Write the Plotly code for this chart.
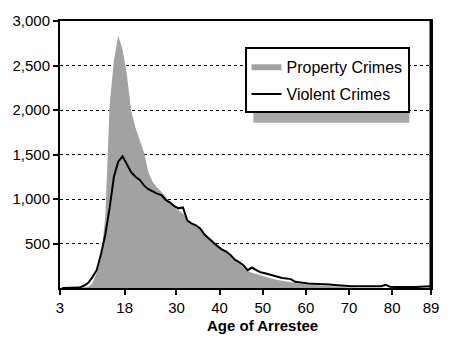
import plotly.graph_objects as go

ages = list(range(3, 90))
property_crimes = [
    0, 0, 0, 0, 0, 8, 15, 50, 170, 340,            # 3-12
    800, 2050, 2560, 2835, 2680, 2400, 1990, 1800, 1660, 1520,  # 13-22
    1300, 1190, 1130, 1080, 1030, 955, 910, 870, 840, 760,      # 23-32
    720, 700, 660, 600, 550, 500, 460, 430, 400, 360,           # 33-42
    310, 270, 240, 190, 170, 155, 140, 128, 115, 100,           # 43-52
    90, 80, 72, 64, 56, 48, 42, 38, 34, 30,                     # 53-62
    26, 22, 18, 15, 12, 10, 6, 3, 0, 0,                         # 63-72
    0, 0, 0, 0, 0, 0, 0, 0, 0, 0,                               # 73-82
    0, 0, 0, 0, 0, 0, 0,                                        # 83-89
]
violent_crimes = [
    0, 0, 0, 0, 5, 25, 55, 120, 200, 378,          # 3-12
    600, 900, 1250, 1420, 1480, 1390, 1300, 1250, 1215, 1150,   # 13-22
    1110, 1085, 1060, 1045, 990, 960, 920, 895, 905, 760,       # 23-32
    725, 705, 670, 600, 555, 510, 470, 435, 410, 370,           # 33-42
    320, 290, 255, 200, 230, 200, 176, 165, 150, 140,           # 43-52
    120, 112, 106, 100, 70, 62, 55, 50, 48, 48,                 # 53-62
    48, 46, 40, 35, 30, 25, 20, 19, 19, 19,                     # 63-72
    19, 19, 19, 19, 19, 35, 15, 12, 10, 8,                      # 73-82
    8, 8, 10, 15, 19, 19, 19,                                   # 83-89
]
x_tick_vals = [3, 18, 30, 40, 50, 60, 70, 80, 89]
y_tick_vals = [500, 1000, 1500, 2000, 2500, 3000]
y_tick_text = ["500", "1,000", "1,500", "2,000", "2,500", "3,000"]

# points sit in the middle of each one-year category
xpos = [a + 0.5 for a in ages]

FONT = "Liberation Sans, Arial, sans-serif"
FILL = "#a8a8a8"

fig = go.Figure()
fig.add_trace(go.Scatter(
    x=xpos, y=property_crimes, name="Property Crimes", mode="lines",
    line=dict(width=0, color=FILL), fill="tozeroy",
    fillcolor=FILL,
    fillpattern=dict(shape=".", fgcolor="#444444", bgcolor="#bcbcbc", size=2, solidity=0.5),
    legendgroup="p",
))
fig.add_trace(go.Scatter(
    x=xpos, y=violent_crimes, name="Violent Crimes", mode="lines",
    line=dict(width=2, color="black"), legendgroup="v",
))

W, H = 451, 341
L, R, T, B = 57, 18, 15, 53
pw, ph = W - L - R, H - T - B

def px_x(p):
    return (p - L) / pw

def px_y(p):
    return (H - B - p) / ph

fig.update_layout(
    width=W, height=H,
    margin=dict(l=L, r=R, t=T, b=B),
    paper_bgcolor="white", plot_bgcolor="white",
    font=dict(family=FONT, size=15, color="black"),
    showlegend=True,
    legend=dict(
        x=px_x(244), y=px_y(42), xanchor="left", yanchor="top",
        bgcolor="white", bordercolor="black", borderwidth=2,
        font=dict(size=16), tracegroupgap=4, itemwidth=30,
    ),
    xaxis=dict(
        range=[3, 89], tickmode="array", tickvals=x_tick_vals,
        ticks="outside", ticklen=5, tickwidth=2, tickcolor="black",
        showline=True, linecolor="black", linewidth=2, mirror=True,
        showgrid=False, zeroline=False,
        tickfont=dict(size=15),
    ),
    yaxis=dict(
        range=[0, 3000], tickmode="array", tickvals=y_tick_vals, ticktext=y_tick_text,
        ticks="outside", ticklen=5, tickwidth=2, tickcolor="black",
        showline=True, linecolor="black", linewidth=2, mirror=True,
        showgrid=True, gridcolor="black", gridwidth=1, griddash="dot",
        zeroline=False, tickfont=dict(size=15),
    ),
    shapes=[
        dict(type="rect", xref="paper", yref="paper",
             x0=px_x(253), x1=px_x(411), y0=px_y(119), y1=px_y(54),
             fillcolor=FILL, line=dict(width=0), layer="above"),
        dict(type="line", xref="paper", yref="paper",
             x0=1, x1=1, y0=0, y1=1, line=dict(color="black", width=3)),
    ],
    annotations=[
        dict(text="<b>Age of Arrestee</b>", xref="paper", yref="paper",
             x=px_x(262), y=px_y(326), xanchor="center", yanchor="middle",
             showarrow=False, font=dict(size=15, family=FONT)),
    ],
)

fig.write_html("out.html")
